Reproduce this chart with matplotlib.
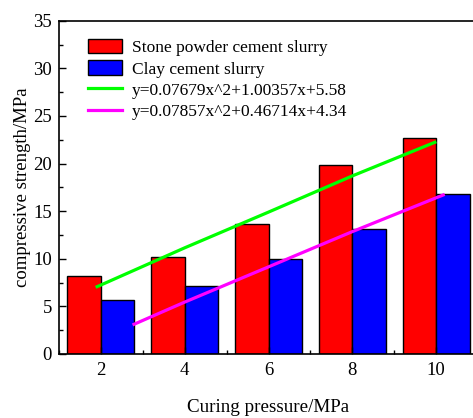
import matplotlib
matplotlib.use("Agg")
import matplotlib.pyplot as plt
from matplotlib.ticker import MultipleLocator

plt.rcParams["font.family"] = ["Liberation Serif", "DejaVu Serif"]
plt.rcParams["mathtext.fontset"] = "stix"

# Datos
presion = [2, 4, 6, 8, 10]
piedra = [8.15, 10.15, 13.65, 19.8, 22.65]
arcilla = [5.65, 7.15, 9.95, 13.15, 16.75]

# Curvas de ajuste (puntos leídos sobre las líneas)
ajuste_piedra_x = [1.91, 4, 6, 8, 9.97]
ajuste_piedra_y = [7.07, 11.15, 14.9, 18.7, 22.23]
ajuste_arcilla_x = [2.79, 4, 6, 8, 10.17]
ajuste_arcilla_y = [3.12, 5.45, 9.15, 12.85, 16.7]

etiquetas = [
    "Stone powder cement slurry",
    "Clay cement slurry",
    "y=0.07679x^2+1.00357x+5.58",
    "y=0.07857x^2+0.46714x+4.34",
]

fig = plt.figure(figsize=(4.73, 4.18), dpi=100)
ax = fig.add_axes([59 / 473, 64 / 418, 419 / 473, 333.3 / 418])

ancho = 0.8
b1 = ax.bar([p - ancho / 2 for p in presion], piedra, width=ancho,
            color="#ff0000", edgecolor="black", linewidth=1.0)
b2 = ax.bar([p + ancho / 2 for p in presion], arcilla, width=ancho,
            color="#0000ff", edgecolor="black", linewidth=1.0)
l1, = ax.plot(ajuste_piedra_x, ajuste_piedra_y, color="#00ff00", lw=2.3)
l2, = ax.plot(ajuste_arcilla_x, ajuste_arcilla_y, color="#ff00ff", lw=2.3)

ax.set_xlim(1, 11)
ax.set_ylim(0, 35)
ax.xaxis.set_major_locator(MultipleLocator(2))
ax.xaxis.set_minor_locator(MultipleLocator(1))
ax.yaxis.set_major_locator(MultipleLocator(5))
ax.yaxis.set_minor_locator(MultipleLocator(2.5))
ax.tick_params(which="both", direction="in", labelsize=13.5, top=False, right=False)
ax.tick_params(which="major", length=5, width=1)
ax.tick_params(which="minor", length=3, width=1)
ax.tick_params(axis="x", pad=6)
ax.tick_params(axis="y", pad=5)
for s in ax.spines.values():
    s.set_linewidth(1.2)

ax.set_xlabel("Curing pressure/MPa", fontsize=13.7, labelpad=14)
ax.set_ylabel("compressive strength/MPa", fontsize=13.5, labelpad=2)

ax.legend([b1, b2, l1, l2], etiquetas, loc="upper left",
          bbox_to_anchor=(0.0685, 0.945), frameon=False, fontsize=12.5,
          borderpad=0, borderaxespad=0, handlelength=2.0, handleheight=0.9,
          handletextpad=0.54, labelspacing=0.24)

fig.savefig("out.png", dpi=100)
